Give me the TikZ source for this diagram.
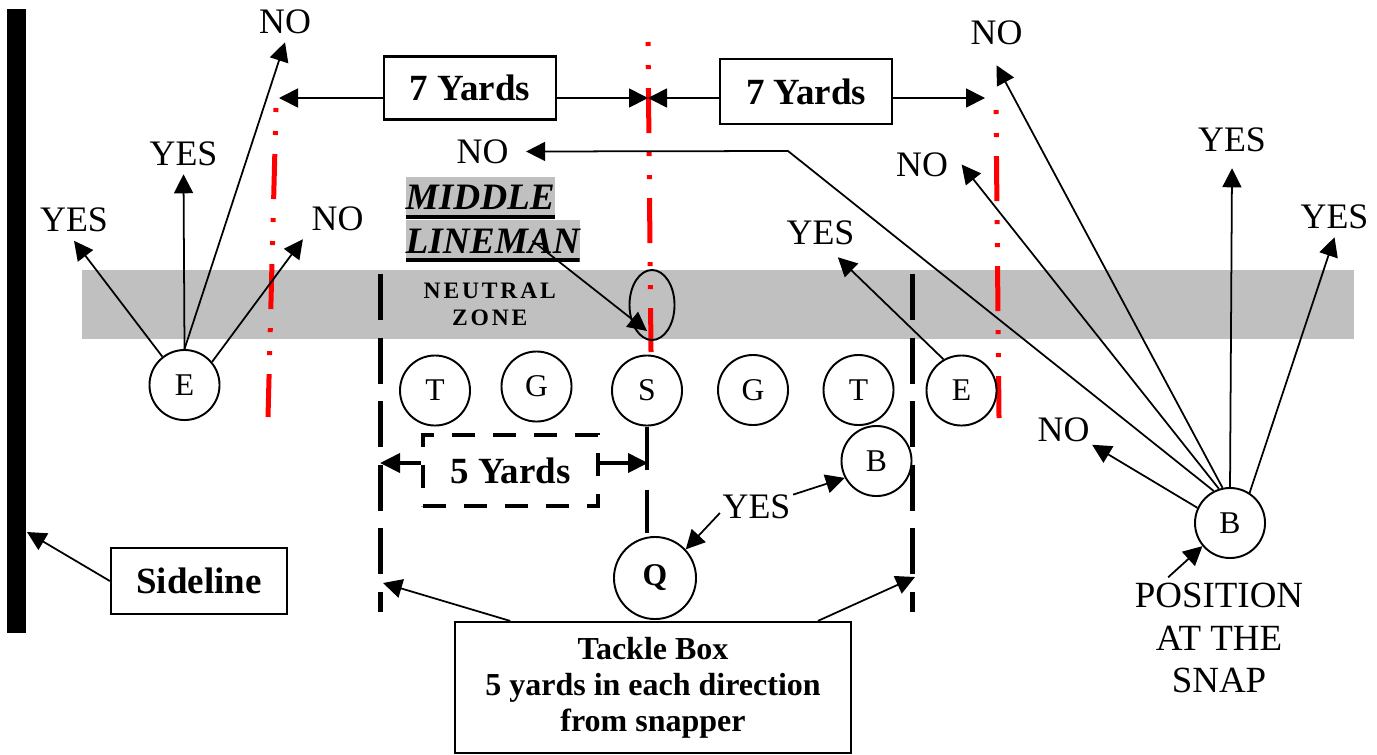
\documentclass[tikz,border=0pt]{standalone}
\usepackage{fontspec}
\setmainfont{Liberation Serif}
\usepackage{tikz}
\usetikzlibrary{arrows.meta, shapes.geometric, positioning}
\definecolor{zonegray}{HTML}{C0C0C0}
\definecolor{markred}{HTML}{FF0000}
\newcommand{\lblsize}{\fontsize{10.2}{12}\selectfont}
\newcommand{\boxsize}{\fontsize{10.5}{12}\selectfont}
\newcommand{\plsize}{\fontsize{9}{11}\selectfont}
\newcommand{\tacklesize}{\fontsize{9.1}{10.2}\selectfont}
\tikzset{
    player/.style = {draw, circle, fill=white, line width=0.55pt, minimum size=0.7cm, inner sep=0em, font=\plsize},
    textnode/.style = {draw=none, fill=none, rectangle, inner sep=0.08cm, font=\lblsize},
    yardbox/.style = {draw, rectangle, line width=0.6pt, minimum width=1.72cm, minimum height=0.63cm,
      inner sep=0em, font=\boxsize\bfseries},
    hilite/.style = {fill=zonegray, rectangle, inner sep=0em, anchor=north west, minimum height=0.42cm,
      font=\fontsize{10.6}{12}\selectfont\bfseries\itshape,
      path picture={\draw[line width=0.07cm] (path picture bounding box.south west) -- (path picture bounding box.south east);}},
    connect/.style = {black, line width=0.5pt, -{Triangle[length=0.19cm, width=0.19cm]}},
    bigconnect/.style = {black, line width=1.1pt, -{Triangle[length=0.2cm, width=0.19cm]}},
    yardline/.style = {markred, line width=0.05cm,
      dash pattern=on 0.04cm off 0.19cm on 0.04cm off 0.19cm on 0.45cm off 0.19cm},
    boxline/.style = {black, line width=0.05cm, dash pattern=on 0.46cm off 0.175cm},
    every text node part/.style={align=center}
}
\begin{document}
\begin{tikzpicture}[x=0.01cm, y=-0.01cm]
\useasboundingbox (0,0) rectangle (1377,754);
% field
\fill[zonegray] (82,270) rectangle (1354,339);
\fill[black] (7,9) rectangle (26,633);
\coordinate (sidehit) at (27,532);
\draw[yardline] (276,108) -- (268,417);
\draw[yardline] (648,42) -- (651,352);
\draw[yardline] (996,110) -- (999,418);
\coordinate (leftmark) at (279,98);
\coordinate (midmark) at (648,98);
\coordinate (rightmark) at (985,98);
\coordinate (boxTL) at (380,274);
\coordinate (boxBL) at (380,612);
\coordinate (boxTR) at (912,274);
\coordinate (boxBR) at (912,612);
\draw[boxline] (boxTL) -- (boxBL);
\draw[boxline] (boxTR) -- (boxBR);
\coordinate (tackleL) at (383,583);
\coordinate (tackleR) at (915,577);
\coordinate (fiveL) at (380,463);
\coordinate (fiveR) at (648,463);
\coordinate (bend) at (788,151);

\node[anchor=north west, inner sep=0em, align=left,
  font=\fontsize{6.7}{7.7}\selectfont\bfseries\addfontfeature{LetterSpace=12}, name=zonetext] at (423,282) {NEUTRAL\\ZONE};
\node[draw, ellipse, line width=0.55pt, minimum width=0.45cm, minimum height=0.7cm, inner sep=0em, name=snapoval] at (652,305) {};
\node[hilite, name=middle] at (405,176) {MIDDLE};
\node[hilite, name=lineman] at (405,219) {LINEMAN};

% players
\node[player, name=eL] at (184.5,385) {E};
\node[player, name=tL] at (435,390.5) {T};
\node[player, name=gL] at (536.5,386.5) {G};
\node[player, name=sC] at (647,390.5) {S};
\node[player, name=gR] at (753,390) {G};
\node[player, name=tR] at (858.5,390) {T};
\node[player, name=eR] at (961.5,390.5) {E};
\node[player, name=bR] at (876.5,461) {B};
\node[player, minimum size=0.82cm, font=\plsize\bfseries, name=qB] at (655,578) {Q};
\node[player, name=bSnap] at (1230,523) {B};

% boxes
\node[yardbox, name=yardsL] at (470,88) {7 Yards};
\node[yardbox, minimum height=0.65cm, name=yardsR] at (806,91.5) {7 Yards};
\node[yardbox, minimum width=1.76cm, minimum height=0.66cm, name=sidebox] at (199,581) {Sideline};
\node[yardbox, line width=0.04cm, dash pattern=on 0.23cm off 0.18cm, minimum width=1.75cm,
  minimum height=0.71cm, name=fiveY] at (510.5,470.5) {5 Yards};
\node[draw, line width=0.6pt, minimum width=3.96cm, minimum height=1.31cm, inner sep=0em,
  font=\tacklesize\bfseries, name=tacklebox] at (653,687.5) {Tackle Box\\5 yards in each direction\\from snapper};

% labels
\node[textnode, name=yesA] at (74,220) {YES};
\node[textnode, name=yesB] at (183.5,153.5) {YES};
\node[textnode, name=noA] at (285,21.5) {NO};
\node[textnode, name=noB] at (337.5,218.5) {NO};
\node[textnode, inner xsep=0.17cm, name=noLong] at (482.5,151.5) {NO};
\node[textnode, inner ysep=0.2cm, name=noTopR] at (996.5,32.5) {NO};
\node[textnode, inner xsep=0.13cm, name=noMidR] at (922,164.5) {NO};
\node[textnode, inner ysep=0.16cm, name=yesTopR] at (1232,139.5) {YES};
\node[textnode, name=yesRR] at (1334.5,216.5) {YES};
\node[textnode, inner ysep=0.12cm, name=yesE] at (820.5,232.5) {YES};
\node[textnode, inner sep=0.02cm, name=noLowR] at (1063.5,430) {NO};
\node[textnode, inner sep=0.02cm, name=yesQB] at (756.5,506.5) {YES};
\node[textnode, inner sep=0.05cm, font=\fontsize{10.5}{12.1}\selectfont, name=posSnap] at (1219,638) {POSITION\\AT THE\\SNAP};

% arrows
\draw[connect] (eL.128) -- (yesA.south);
\draw[connect] (eL.north) -- (yesB.south);
\draw[connect] (eL.north) -- (noA.south);
\draw[connect] (eL.40) -- (noB.south west);
\draw[connect] (yardsL.west |- leftmark) -- (leftmark);
\draw[connect] (yardsL.east |- midmark) -- (midmark);
\draw[connect] (yardsR.west |- midmark) -- (midmark);
\draw[connect] (yardsR.east |- rightmark) -- (rightmark);
\draw[connect] ([xshift=-0.48cm]lineman.east) -- ([xshift=-0.05cm, yshift=0.1cm]snapoval.south);
\draw[connect] (bSnap.117) -- (bend) -- (noLong.east);
\draw[connect] (bSnap.102) -- (noTopR.south);
\draw[connect] (bSnap.108) -- (noMidR.east);
\draw[connect] (bSnap.north) -- (yesTopR.south);
\draw[connect] (bSnap.57) -- (yesRR.south);
\draw[connect] (bSnap.155) -- (noLowR.south east);
\draw[connect] (posSnap.130) -- (bSnap.220);
\draw[connect] (eR.120) -- (yesE.-55);
\draw[connect] (yesQB.18) -- (bR.208);
\draw[connect] (yesQB.190) -- (qB.43);
\draw[connect] (sidebox.west) -- (sidehit);
\draw[connect] (tacklebox.155) -- (tackleL);
\draw[connect] (tacklebox.22) -- (tackleR);
\draw[bigconnect] (fiveY.west |- fiveL) -- (fiveL);
\draw[bigconnect] (fiveY.east |- fiveR) -- (fiveR);
\draw[black, line width=0.04cm, dash pattern=on 0.43cm off 0.2cm] (sC.south) -- (sC.south |- qB.north);
\end{tikzpicture}
\end{document}
